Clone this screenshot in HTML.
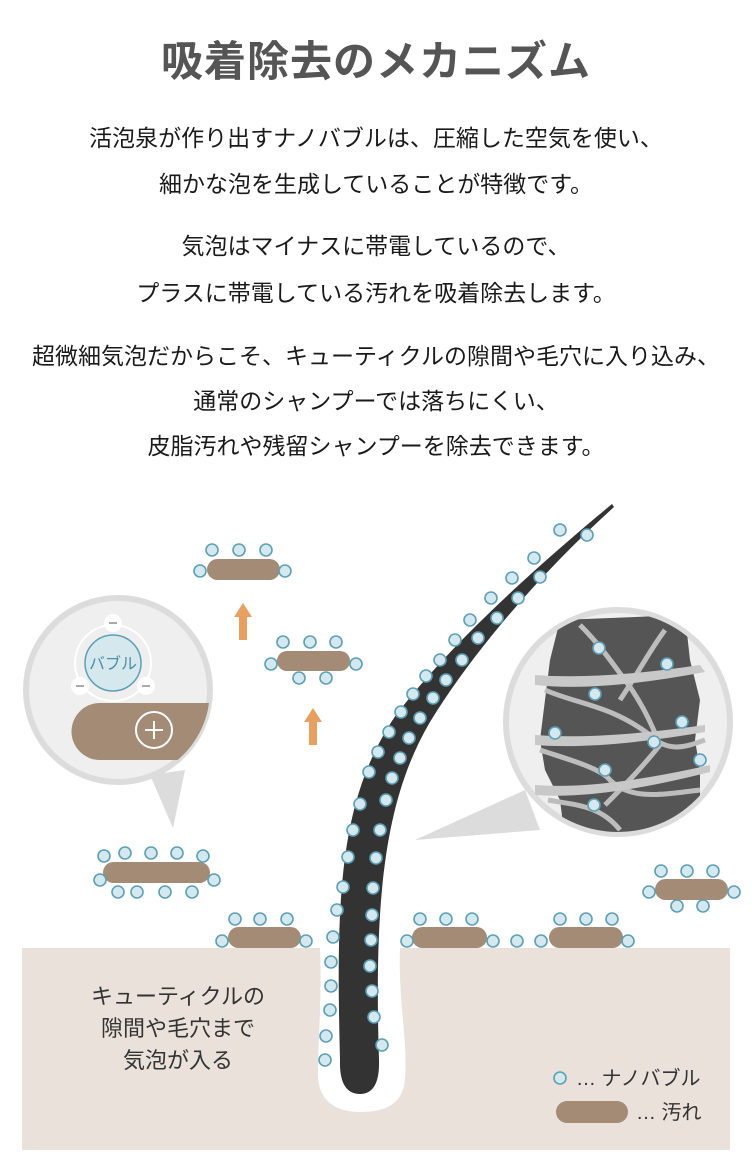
<!DOCTYPE html>
<html><head><meta charset="utf-8"><style>
body{margin:0;width:752px;height:1169px;background:#fff;overflow:hidden;font-family:"Liberation Sans","Noto Sans CJK JP",sans-serif;}
.t{position:absolute;left:0;width:752px;text-align:center;color:#1a1a1a;font-size:23px;line-height:26px;}
h1{position:absolute;left:0;top:37px;width:752px;margin:0;text-align:center;font-size:42px;line-height:50px;color:#555;font-weight:bold;letter-spacing:1px;}
</style></head><body>
<h1>吸着除去のメカニズム</h1>
<div class="t" style="top:125px">活泡泉が作り出すナノバブルは、圧縮した空気を使い、</div>
<div class="t" style="top:171px">細かな泡を生成していることが特徴です。</div>
<div class="t" style="top:233px">気泡はマイナスに帯電しているので、</div>
<div class="t" style="top:280px">プラスに帯電している汚れを吸着除去します。</div>
<div class="t" style="top:343px">超微細気泡だからこそ、キューティクルの隙間や毛穴に入り込み、</div>
<div class="t" style="top:388px">通常のシャンプーでは落ちにくい、</div>
<div class="t" style="top:433px">皮脂汚れや残留シャンプーを除去できます。</div>
<svg style="position:absolute;left:0;top:0" width="752" height="1169" viewBox="0 0 752 1169" font-family="Liberation Sans,Noto Sans CJK JP,sans-serif">
<defs>
<clipPath id="lc"><circle cx="118" cy="690" r="92"/></clipPath>
<clipPath id="rc"><circle cx="618" cy="722" r="110"/></clipPath>
<g id="b"><circle r="6" fill="#d3e8ef" stroke="#5e9fb4" stroke-width="1.6"/></g>
</defs>
<rect x="22" y="948" width="708" height="202" fill="#e9e1da"/>
<path d="M320,948 L400,948 C398,1000 408,1040 405,1080 C402,1105 385,1112 360,1112 C335,1112 318,1100 318,1075 C318,1040 322,1000 320,948Z" fill="#fff"/>
<path d="M150,775 L173,828 L185,770Z" fill="#dcdcdc"/>
<circle cx="118" cy="690" r="92" fill="#efefef" stroke="#dcdcdc" stroke-width="6"/>
<g clip-path="url(#lc)">
<path d="M100,703 L215,703 L215,760 L100,760 A28.5,28.5 0 0 1 100,703Z" fill="#a38b76"/>
</g>
<circle cx="154" cy="730" r="18" fill="none" stroke="#fff" stroke-width="2"/>
<path d="M145,730h18M154,721v18" stroke="#fff" stroke-width="2"/>
<circle cx="113" cy="663" r="38" fill="none" stroke="#fff" stroke-width="2"/>
<circle cx="113" cy="663" r="28" fill="#d4e8ee" stroke="#5e9fb4" stroke-width="1.5"/>
<text x="113" y="669" font-size="16" fill="#4d8fa5" text-anchor="middle">バブル</text>
<g fill="#fff"><circle cx="113" cy="623" r="9"/><circle cx="80" cy="686" r="9"/><circle cx="146" cy="686" r="9"/></g>
<g stroke="#777" stroke-width="1.3"><path d="M109,623h8M76,686h8M142,686h8"/></g>
<path d="M525,790 L415,840 L540,830Z" fill="#dcdcdc"/>
<circle cx="618" cy="722" r="112" fill="#efefef" stroke="#dcdcdc" stroke-width="6"/>
<g clip-path="url(#rc)">
<path d="M560,620 L685,615 L690,660 L700,700 L695,740 L700,770 L700,800 L690,840 L565,840 L560,800 L545,770 L540,740 L545,700 L550,660Z" fill="#555"/>
<g fill="none" stroke="#bdbdbd" stroke-width="5">
<path d="M580,625 C600,645 610,660 625,680 C640,700 650,720 660,745"/>
<path d="M665,630 C650,650 640,670 620,700"/>
<path d="M545,690 C580,705 610,705 650,735 C670,755 690,745 705,740"/>
<path d="M540,750 C570,760 600,768 610,780 C630,800 660,795 700,790"/>
<path d="M548,800 C575,805 600,805 620,830"/>
<path d="M660,745 C640,770 620,790 605,805"/>
</g>
<path d="M535,675 Q600,680 700,665 L705,672 Q600,692 535,685Z" fill="#c8c8c8"/>
<path d="M535,735 Q600,740 705,725 L705,732 Q600,750 535,745Z" fill="#c8c8c8"/>
<path d="M535,785 Q600,790 710,765 L710,772 Q600,800 535,795Z" fill="#c8c8c8"/>
</g>
<g>
<use href="#b" x="599" y="648"/><use href="#b" x="667" y="664"/><use href="#b" x="595" y="694"/><use href="#b" x="682" y="722"/><use href="#b" x="654" y="742"/><use href="#b" x="555" y="733"/><use href="#b" x="605" y="770"/><use href="#b" x="700" y="760"/><use href="#b" x="594" y="805"/>
</g>
<path d="M340,1060 C336,900 338,800 396,715 C450,645 530,572 612,504 L614,507 C542,572 474,650 430,722 C384,800 374,900 379,1060 Q380,1094 360,1094 Q339,1094 340,1060Z" fill="#333"/>
<path d="M243,603 L252,617 L247,617 L247,640 L239,640 L239,617 L234,617Z" fill="#e8a060"/>
<path d="M313,708 L322,722 L317,722 L317,745 L309,745 L309,722 L304,722Z" fill="#e8a060"/>
<g fill="#a38b76">
<rect x="207" y="559" width="73" height="21" rx="10.5"/>
<rect x="277" y="651" width="73" height="20" rx="10"/>
<rect x="103" y="862" width="107" height="21" rx="10.5"/>
<rect x="228" y="927" width="73" height="21" rx="10.5"/>
<rect x="412" y="927" width="75" height="21" rx="10.5"/>
<rect x="549" y="927" width="74" height="21" rx="10.5"/>
<rect x="655" y="879" width="73" height="21" rx="10.5"/>
<rect x="556" y="1101" width="72" height="22" rx="11"/>
</g>
<g>
<use href="#b" x="212" y="550"/><use href="#b" x="239" y="550"/><use href="#b" x="266" y="550"/><use href="#b" x="200" y="571"/><use href="#b" x="285" y="571"/>
<use href="#b" x="283" y="642"/><use href="#b" x="310" y="642"/><use href="#b" x="336" y="642"/><use href="#b" x="271" y="664"/><use href="#b" x="356" y="664"/><use href="#b" x="299" y="678"/><use href="#b" x="326" y="678"/>
<use href="#b" x="104" y="856"/><use href="#b" x="125" y="853"/><use href="#b" x="151" y="853"/><use href="#b" x="177" y="853"/><use href="#b" x="203" y="856"/><use href="#b" x="100" y="880"/><use href="#b" x="214" y="880"/><use href="#b" x="118" y="892"/><use href="#b" x="137" y="892"/><use href="#b" x="165" y="892"/><use href="#b" x="192" y="892"/>
<use href="#b" x="235" y="919"/><use href="#b" x="260" y="919"/><use href="#b" x="287" y="919"/><use href="#b" x="222" y="941"/><use href="#b" x="306" y="941"/>
<use href="#b" x="420" y="919"/><use href="#b" x="446" y="919"/><use href="#b" x="472" y="919"/><use href="#b" x="407" y="941"/><use href="#b" x="493" y="941"/><use href="#b" x="517" y="941"/><use href="#b" x="541" y="941"/>
<use href="#b" x="560" y="919"/><use href="#b" x="586" y="919"/><use href="#b" x="612" y="919"/><use href="#b" x="628" y="941"/>
<use href="#b" x="661" y="871"/><use href="#b" x="687" y="871"/><use href="#b" x="713" y="871"/><use href="#b" x="649" y="892"/><use href="#b" x="734" y="892"/><use href="#b" x="677" y="906"/><use href="#b" x="703" y="906"/>
<use href="#b" x="560" y="1078"/>
</g>
<g>
<use href="#b" x="587" y="535"/><use href="#b" x="560" y="530"/><use href="#b" x="534" y="558"/><use href="#b" x="512" y="578"/><use href="#b" x="491" y="598"/><use href="#b" x="470" y="620"/><use href="#b" x="455" y="640"/><use href="#b" x="440" y="660"/><use href="#b" x="426" y="676"/><use href="#b" x="413" y="694"/><use href="#b" x="401" y="712"/><use href="#b" x="389" y="732"/><use href="#b" x="378" y="752"/><use href="#b" x="369" y="772"/><use href="#b" x="360" y="804"/><use href="#b" x="353" y="830"/><use href="#b" x="348" y="857"/><use href="#b" x="343" y="887"/><use href="#b" x="337" y="910"/><use href="#b" x="333" y="937"/><use href="#b" x="331" y="962"/><use href="#b" x="331" y="986"/><use href="#b" x="330" y="1010"/><use href="#b" x="326" y="1036"/><use href="#b" x="325" y="1060"/>
<use href="#b" x="540" y="577"/><use href="#b" x="518" y="598"/><use href="#b" x="497" y="618"/><use href="#b" x="478" y="638"/><use href="#b" x="462" y="660"/><use href="#b" x="446" y="680"/><use href="#b" x="433" y="698"/><use href="#b" x="420" y="718"/><use href="#b" x="409" y="738"/><use href="#b" x="400" y="758"/><use href="#b" x="392" y="778"/><use href="#b" x="386" y="800"/><use href="#b" x="380" y="830"/><use href="#b" x="376" y="858"/><use href="#b" x="373" y="888"/><use href="#b" x="372" y="915"/><use href="#b" x="371" y="940"/><use href="#b" x="370" y="966"/><use href="#b" x="372" y="991"/><use href="#b" x="374" y="1017"/><use href="#b" x="382" y="1045"/>
</g>
<g font-size="22" fill="#333" text-anchor="middle">
<text x="178" y="1004">キューティクルの</text>
<text x="178" y="1036">隙間や毛穴まで</text>
<text x="178" y="1068">気泡が入る</text>
</g>
<text x="576" y="1085" font-size="20" fill="#333">… ナノバブル</text>
<text x="636" y="1119" font-size="20" fill="#333">… 汚れ</text>
</svg>
</body></html>
